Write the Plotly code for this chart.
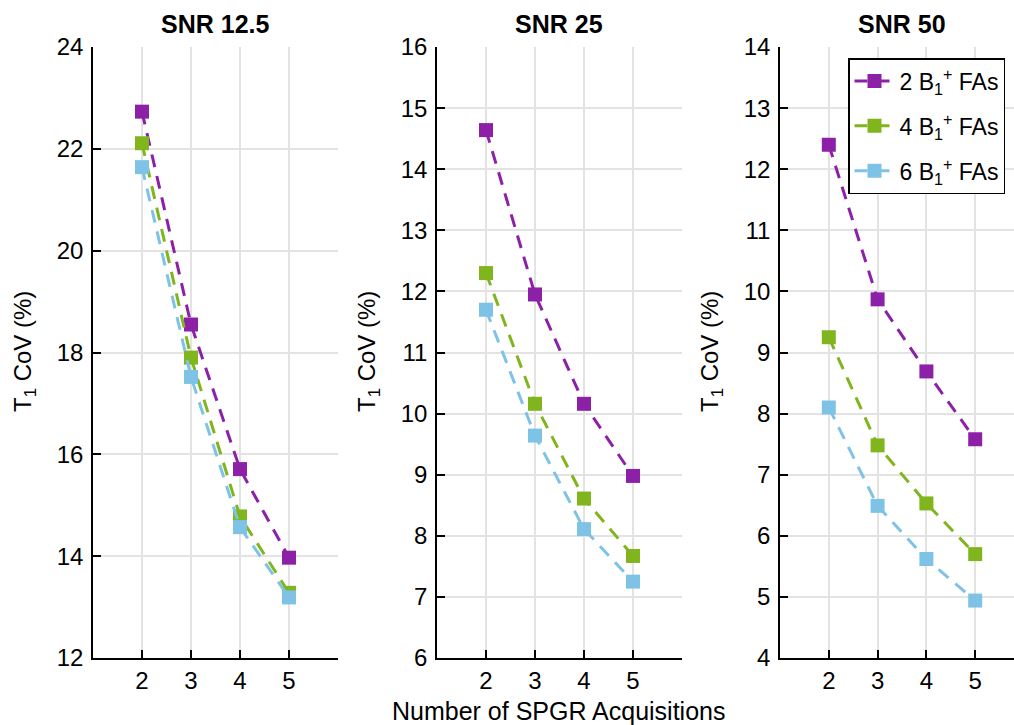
import plotly.graph_objects as go

acq = [2, 3, 4, 5]
titles = ["SNR 12.5", "SNR 25", "SNR 50"]
series_names = ["2 B<sub>1</sub><sup>+</sup> FAs", "4 B<sub>1</sub><sup>+</sup> FAs", "6 B<sub>1</sub><sup>+</sup> FAs"]
colors = ["#8C21A8", "#80B51E", "#7EC3E6"]

snr12_2fa = [22.73, 18.55, 15.71, 13.97]
snr12_4fa = [22.11, 17.90, 14.78, 13.28]
snr12_6fa = [21.64, 17.52, 14.57, 13.19]

snr25_2fa = [14.64, 11.95, 10.16, 8.98]
snr25_4fa = [12.30, 10.16, 8.61, 7.67]
snr25_6fa = [11.70, 9.64, 8.11, 7.25]

snr50_2fa = [12.40, 9.87, 8.69, 7.58]
snr50_4fa = [9.25, 7.48, 6.53, 5.70]
snr50_6fa = [8.10, 6.49, 5.62, 4.94]

panels = [
    [snr12_2fa, snr12_4fa, snr12_6fa],
    [snr25_2fa, snr25_4fa, snr25_6fa],
    [snr50_2fa, snr50_4fa, snr50_6fa],
]
y_ranges = [[12, 24], [6, 16], [4, 14]]
y_dticks = [2, 1, 1]

W, H = 1014, 725
x_px = [(93, 338), (437, 682), (780, 1014)]
x_ranges = [[1, 6], [1, 6], [1, 1 + (1014 - 780) / 48.8]]
y_dom = [1 - 658 / H, 1 - 47 / H]
ytitle_x = [25, 369, 712]

fig = go.Figure()
font_family = "Liberation Sans, Arial, sans-serif"

for p, data in enumerate(panels):
    sfx = "" if p == 0 else str(p + 1)
    for s, vals in enumerate(data):
        fig.add_trace(go.Scatter(
            x=acq, y=vals, mode="lines+markers",
            name=series_names[s],
            legendgroup="g" + str(s),
            line=dict(color=colors[s], width=3, dash="13px,9px"),
            marker=dict(symbol="square", size=14, color=colors[s]),
            xaxis="x" + sfx, yaxis="y" + sfx,
            showlegend=(p == 2),
        ))
    axis_common = dict(
        showline=True, linecolor="black", linewidth=1.5,
        ticks="inside", ticklen=8, tickwidth=1.5, tickcolor="black",
        showgrid=True, gridcolor="#e3e3e3", gridwidth=1.5,
        zeroline=False, mirror=False, automargin=False,
        tickfont=dict(size=24, color="black", family=font_family),
    )
    fig.layout["xaxis" + sfx] = dict(
        axis_common,
        domain=[x_px[p][0] / W, x_px[p][1] / W],
        range=x_ranges[p], tickvals=acq, anchor="y" + sfx,
    )
    fig.layout["yaxis" + sfx] = dict(
        axis_common,
        domain=y_dom, range=y_ranges[p], dtick=y_dticks[p],
        anchor="x" + sfx, ticklabelstandoff=3,
    )
    fig.add_annotation(
        x=ytitle_x[p] / W, y=1 - 352 / H, xref="paper", yref="paper",
        text="T<sub>1</sub> CoV (%)", showarrow=False, textangle=-90,
        font=dict(size=24, color="black", family=font_family),
        xanchor="center", yanchor="middle",
    )
    fig.add_annotation(
        x=(x_px[p][0] + 122) / W,
        y=1 - 24 / H, xref="paper", yref="paper",
        text="<b>" + titles[p] + "</b>", showarrow=False,
        font=dict(size=25, color="black", family=font_family),
        xanchor="center", yanchor="middle",
    )

fig.add_annotation(
    x=558 / W, y=1 - 711 / H, xref="paper", yref="paper",
    text="Number of SPGR Acquisitions", showarrow=False,
    font=dict(size=25, color="black", family=font_family),
    xanchor="center", yanchor="middle",
)

fig.update_layout(
    width=W, height=H,
    margin=dict(l=0, r=0, t=0, b=0, autoexpand=False),
    paper_bgcolor="white", plot_bgcolor="white",
    font=dict(family=font_family, color="black"),
    showlegend=True,
    legend=dict(
        x=848 / W, y=1 - 58 / H, xanchor="left", yanchor="top",
        bgcolor="white", bordercolor="black", borderwidth=1.5,
        font=dict(size=23, color="black", family=font_family),
        traceorder="grouped", tracegroupgap=12,
        itemwidth=40,
    ),
)

fig.write_html("out.html")
